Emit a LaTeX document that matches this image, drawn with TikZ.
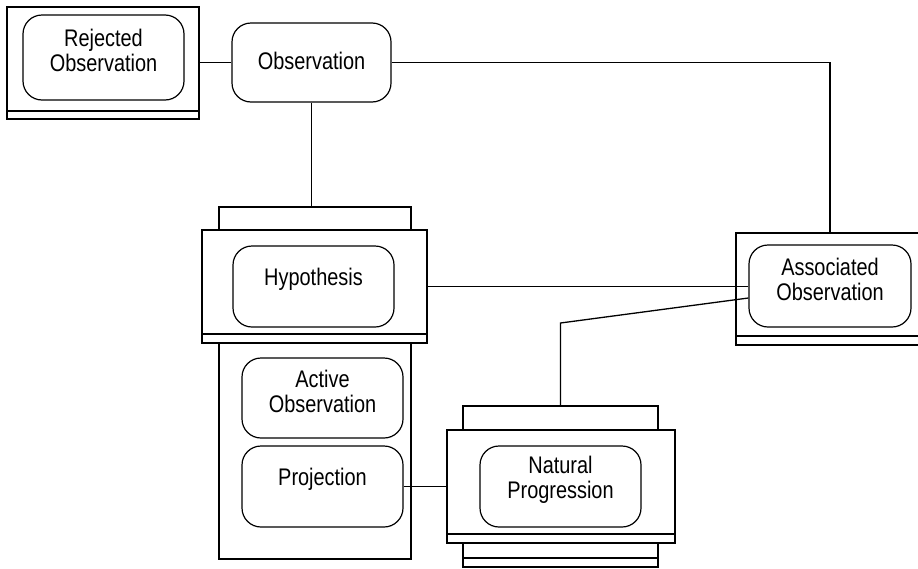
\documentclass[tikz,border=0pt]{standalone}
\usepackage{fontspec}
\setmainfont{Liberation Sans}[FakeStretch=0.83]
\usetikzlibrary{positioning}

\begin{document}
\begin{tikzpicture}[x=1pt,y=-1pt,
		frame/.style={draw,line width=1.8pt,inner sep=0pt},
		state/.style={draw,line width=1.2pt,rounded corners=19pt,minimum width=161pt,minimum height=81pt},
		txt/.style={align=center,font=\fontsize{24}{25}\selectfont,yshift=7pt},
		link/.style={line width=1.3pt}]
			\useasboundingbox (0,0) rectangle (918,568);
			\node[frame,minimum width=192pt,minimum height=112pt] (rejframe) at (103,63) {};
			\draw[frame] ([yshift=9pt]rejframe.south west) -- ([yshift=9pt]rejframe.south east);
			\node[state,minimum height=85pt,label={[txt]center:{Rejected\\Observation}}] (rej) at (103.5,57.5) {};
			\node[state,minimum width=159pt,minimum height=79pt,label={[txt,yshift=-5pt]center:{Observation}}] (obs) at (311.5,62.5) {};
			\node[frame,minimum width=192pt,minimum height=23pt] (hyptop) at (315,218.5) {};
			\node[frame,minimum width=225pt,minimum height=113pt] (hypframe) at (314.5,286.5) {};
			\draw[frame] ([yshift=10pt]hypframe.south west) -- ([yshift=10pt]hypframe.south east);
			\node[frame,minimum width=192pt,minimum height=216pt] (hyptail) at (315,451) {};
			\node[state,label={[txt]center:{Hypothesis}}] (hyp) at (313.5,286.5) {};
			\node[state,minimum height=80pt,label={[txt]center:{Active\\Observation}}] (act) at (322.5,398) {};
			\node[state,label={[txt]center:{Projection}}] (proj) at (322.5,486.5) {};
			\node[frame,minimum width=195pt,minimum height=24pt] (nattop) at (560.5,418) {};
			\node[frame,minimum width=228pt,minimum height=113pt] (natframe) at (561,486.5) {};
			\draw[frame] ([yshift=10pt]natframe.south west) -- ([yshift=10pt]natframe.south east);
			\node[frame,minimum width=195pt,minimum height=24pt] (natbase) at (560.5,555) {};
			\draw[frame] ([yshift=10pt]natbase.south west) -- ([yshift=10pt]natbase.south east);
			\node[state,label={[txt]center:{Natural\\Progression}}] (nat) at (560.5,486.5) {};
			\node[frame,minimum width=188pt,minimum height=112pt] (assocframe) at (830,289) {};
			\draw[frame] ([yshift=10pt]assocframe.south west) -- ([yshift=10pt]assocframe.south east);
			\node[state,minimum width=162pt,minimum height=82pt,label={[txt]center:{Associated\\Observation}}] (assoc) at (830,286) {};
			\coordinate (natbend) at (560.5,323);
			\draw[link] (rejframe.east |- obs.west) -- (obs.west);
			\draw[link] (obs.east) -| (assocframe.north);
			\draw[link] (obs.south) -- (obs.south |- hyptop.north);
			\draw[link] (hypframe.east |- hyp.east) -- (assoc.west |- hyp.east);
			\draw[link] (nattop.north) -- (natbend) -- ([yshift=-12pt]assoc.west);
			\draw[link] (proj.east) -- (natframe.west |- proj.east);
		\end{tikzpicture}
\end{document}
